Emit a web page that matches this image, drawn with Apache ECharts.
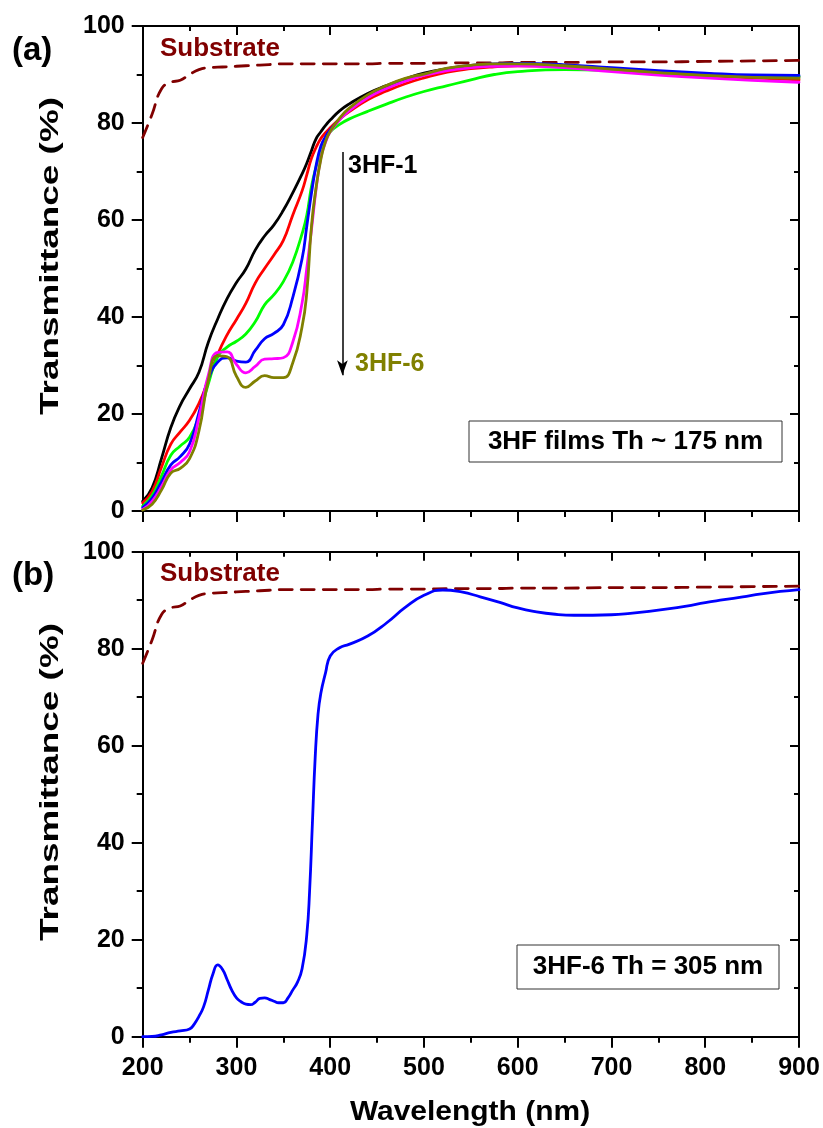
<!DOCTYPE html>
<html>
<head>
<meta charset="utf-8">
<script src="https://cdn.jsdelivr.net/npm/echarts@6/dist/echarts.min.js"></script>
<style>
html,body{margin:0;padding:0;background:#fff;}
#chart{width:823px;height:1128px;}
</style>
</head>
<body>
<div id="chart"></div>
<script>
// ---------- DATA ----------
const wavelengthsA = [200,210,220,230,240,250,260,270,280,290,300,310,320,330,340,350,360,370,375,380,385,390,395,400,410,420,440,460,480,500,525,550,575,600,650,700,750,800,850,900];
const hf1 = [2.0,4.8,10.8,17.2,21.8,25.2,28.6,34.8,39.6,43.8,47.1,49.9,53.8,56.7,59.0,62.0,65.6,69.5,71.7,74.3,76.8,78.2,79.5,80.6,82.5,83.9,86.1,87.7,89.1,90.3,91.2,91.8,92.1,92.2,91.9,91.2,90.6,90.1,89.7,89.5];
const hf2 = [1.7,4.0,9.0,13.8,16.3,18.7,22.2,27.0,32.3,36.3,39.5,42.8,47.0,50.0,52.8,55.8,61.0,66.0,69.3,72.7,75.0,76.8,78.0,79.0,80.8,82.3,84.8,86.6,88.1,89.3,90.5,91.2,91.6,91.8,91.6,91.0,90.3,89.8,89.3,88.9];
const hf3 = [1.0,3.2,7.2,11.5,13.4,15.2,19.5,26.2,31.8,33.8,35.0,36.5,39.0,42.5,44.6,47.3,51.3,57.2,61.0,66.9,71.0,74.2,76.5,78.2,79.7,80.8,82.4,83.9,85.3,86.5,87.7,88.9,90.0,90.6,91.0,90.8,90.3,89.9,89.7,89.6];
const hf4 = [0.7,2.6,6.0,9.5,11.2,13.8,20.3,27.2,30.7,31.6,30.9,30.7,33.1,35.5,36.6,38.4,44.0,52.0,58.7,65.5,71.3,75.2,77.2,78.6,80.8,82.6,85.3,87.2,88.8,90.0,91.2,91.9,92.2,92.3,92.0,91.4,90.8,90.3,89.9,89.8];
const hf5 = [0.3,2.0,5.0,8.5,10.0,12.2,19.2,28.0,32.7,32.8,30.2,28.5,29.8,31.3,31.4,31.6,34.8,42.9,50.0,58.0,66.5,72.8,76.0,78.2,80.6,82.5,85.2,87.1,88.6,89.8,90.8,91.4,91.7,91.8,91.4,90.6,89.9,89.3,88.8,88.4];
const hf6 = [0.2,1.4,4.3,7.8,8.8,10.8,16.5,27.0,32.0,31.8,27.8,25.5,26.8,27.9,27.5,27.5,30.5,38.0,45.0,58.7,66.8,72.5,76.2,78.3,81.0,83.0,85.8,87.7,89.2,90.1,91.3,91.9,92.2,92.2,91.8,91.1,90.4,89.8,89.4,89.2];
const substrate = [77.0,81.8,87.0,88.4,88.8,90.0,91.0,91.4,91.5,91.6,91.7,91.8,91.9,92.0,92.1,92.2,92.2,92.2,92.2,92.2,92.2,92.2,92.2,92.2,92.2,92.2,92.2,92.3,92.3,92.3,92.4,92.4,92.4,92.5,92.5,92.6,92.6,92.7,92.8,92.9];

const wavelengthsB = [200,210,220,230,240,250,255,260,265,270,275,280,285,290,295,300,305,310,315,320,325,330,335,340,345,350,355,360,365,370,375,378,381,384,387,390,395,400,410,420,440,460,480,500,520,540,560,580,600,620,640,660,680,700,720,740,760,780,800,820,840,860,880,900];
const hf6Thick = [0,0.05,0.4,0.9,1.2,1.6,2.6,4.2,6.2,9.6,13.0,14.8,13.9,11.8,9.6,8.0,7.2,6.7,6.6,7.1,7.9,8.0,7.7,7.3,7.0,7.0,8.0,9.6,11.2,14.0,21.0,30.0,44.0,57.7,66.5,70.8,75.0,78.5,80.2,80.9,82.6,85.3,88.5,91.0,92.1,91.7,90.7,89.6,88.4,87.6,87.1,86.9,86.9,87.0,87.3,87.7,88.2,88.8,89.5,90.1,90.7,91.3,91.8,92.2];

const xTicks = {min:200, max:900, interval:100};
const yTicks = {min:0, max:100, interval:20};
const arrowStart = [413, 74];
const arrowEnd = [413, 28];

// ---------- CHART ----------
const FONT = "'Liberation Sans', Arial, Helvetica, sans-serif";
const zip = (xs, ys) => xs.map((x, i) => [x, ys[i]]);

function xAxis(gridIndex, position, showLabel, inside) {
  return {
    type: 'value', gridIndex, position,
    min: xTicks.min, max: xTicks.max, interval: xTicks.interval,
    axisLine: {show: true, onZero: false, lineStyle: {color: '#000', width: 2}},
    axisTick: {show: true, inside, length: inside ? 9 : 11, lineStyle: {color: '#000', width: 2}},
    minorTick: {show: true, splitNumber: 2, length: inside ? 5 : 6, lineStyle: {color: '#000', width: 2}},
    splitLine: {show: false}, minorSplitLine: {show: false},
    axisLabel: {show: showLabel, color: '#000', fontFamily: FONT, fontWeight: 'bold', fontSize: 25, margin: 19}
  };
}
function yAxis(gridIndex, position, showLabel, inside) {
  return {
    type: 'value', gridIndex, position,
    min: yTicks.min, max: yTicks.max, interval: yTicks.interval,
    axisLine: {show: true, onZero: false, lineStyle: {color: '#000', width: 2}},
    axisTick: {show: true, inside, length: inside ? 9 : 11, lineStyle: {color: '#000', width: 2}},
    minorTick: {show: true, splitNumber: 2, length: inside ? 5 : 6, lineStyle: {color: '#000', width: 2}},
    splitLine: {show: false}, minorSplitLine: {show: false},
    axisLabel: {show: showLabel, color: '#000', fontFamily: FONT, fontWeight: 'bold', fontSize: 25, margin: 18}
  };
}
function line(name, xs, ys, color, axisIdx, dashed) {
  return {
    name, type: 'line', xAxisIndex: axisIdx, yAxisIndex: axisIdx,
    data: zip(xs, ys), showSymbol: false, symbol: 'none',
    smooth: 0.5,
    lineStyle: {color, width: 2.8, type: dashed ? [13, 9] : 'solid', cap: 'round', join: 'round'},
    silent: true, animation: false, z: 3
  };
}
function txt(text, x, y, size, color, align, extra) {
  return Object.assign({
    type: 'text', x, y, silent: true, z: 100,
    style: {text, fill: color || '#000', font: 'bold ' + size + 'px ' + FONT, align: align || 'left', verticalAlign: 'middle'}
  }, extra || {});
}

const series = [
  line('Substrate (a)', wavelengthsA, substrate, '#800000', 0, true),
  line('3HF-1', wavelengthsA, hf1, '#000000', 0),
  line('3HF-2', wavelengthsA, hf2, '#ff0000', 0),
  line('3HF-3', wavelengthsA, hf3, '#00ff00', 0),
  line('3HF-4', wavelengthsA, hf4, '#0000ff', 0),
  line('3HF-5', wavelengthsA, hf5, '#ff00ff', 0),
  line('3HF-6', wavelengthsA, hf6, '#808000', 0),
  line('Substrate (b)', wavelengthsA, substrate, '#800000', 2, true),
  line('3HF-6 305 nm', wavelengthsB, hf6Thick, '#0000ff', 2)
];
series[6].markLine = {
  silent: true, animation: false,
  symbol: ['none', 'arrow'], symbolSize: [8, 15],
  label: {show: false},
  lineStyle: {color: '#000', width: 1.5, type: 'solid'},
  data: [[{coord: arrowStart}, {coord: arrowEnd}]]
};

const graphic = [
  txt('(a)', 12, 51, 33),
  txt('(b)', 12, 576, 33),
  txt('Substrate', 160, 49, 26, '#800000'),
  txt('Substrate', 160, 574, 26, '#800000'),
  txt('3HF-1', 348, 166, 25),
  txt('3HF-6', 355, 364, 25, '#808000'),
  {type: 'rect', shape: {x: 469, y: 421, width: 313, height: 41}, style: {fill: '#fff', stroke: '#333', lineWidth: 1}, z: 90, silent: true},
  txt('3HF films Th ~ 175 nm', 625.5, 441.5, 26, '#000', 'center'),
  {type: 'rect', shape: {x: 517, y: 945, width: 262, height: 44}, style: {fill: '#fff', stroke: '#333', lineWidth: 1}, z: 90, silent: true},
  txt('3HF-6 Th = 305 nm', 648, 967, 26, '#000', 'center'),
  txt('Transmittance (%)', 51, 256, 26, '#000', 'center', {rotation: Math.PI / 2, scaleX: 1.42}),
  txt('Transmittance (%)', 51, 782, 26, '#000', 'center', {rotation: Math.PI / 2, scaleX: 1.42}),
  txt('Wavelength (nm)', 470, 1112, 28, '#000', 'center', {scaleX: 1.07})
];

const chart = echarts.init(document.getElementById('chart'), null, {renderer: 'canvas'});
chart.setOption({
  animation: false,
  backgroundColor: '#fff',
  grid: [
    {left: 142.7, top: 26, width: 656.3, height: 485},
    {left: 142.7, top: 551.7, width: 656.3, height: 485}
  ],
  xAxis: [
    xAxis(0, 'bottom', false, false),
    xAxis(0, 'top', false, true),
    xAxis(1, 'bottom', true, false),
    xAxis(1, 'top', false, true)
  ],
  yAxis: [
    yAxis(0, 'left', true, false),
    yAxis(0, 'right', false, true),
    yAxis(1, 'left', true, false),
    yAxis(1, 'right', false, true)
  ],
  series,
  graphic
});
</script>
</body>
</html>
